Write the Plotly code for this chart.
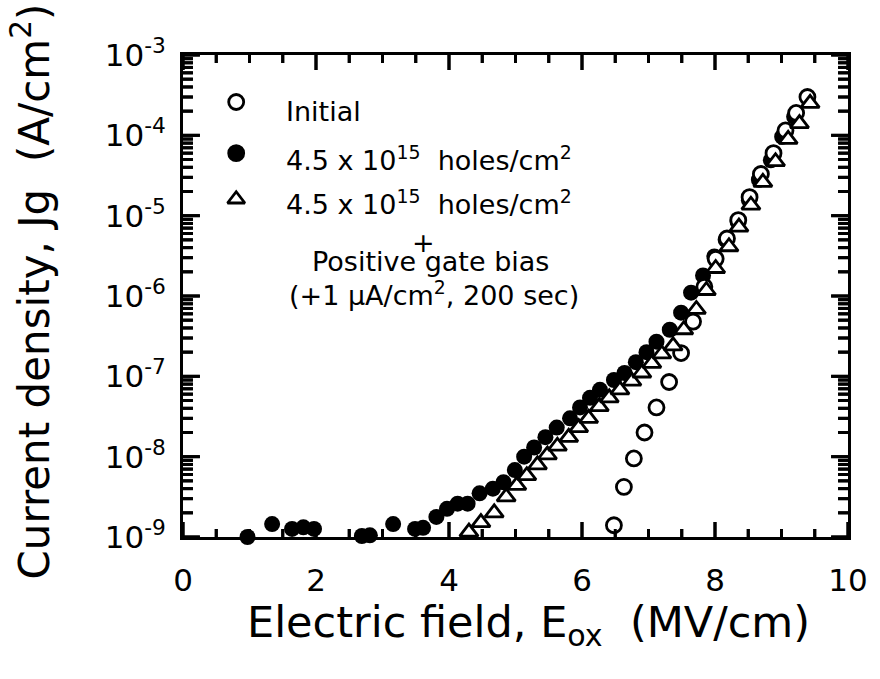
import plotly.graph_objects as go

# Gate current density vs. oxide field
field_initial = [6.48, 6.63, 6.78, 6.94, 7.12, 7.31, 7.49, 7.67, 7.84, 8.01,
                 8.18, 8.35, 8.52, 8.69, 8.88, 9.06, 9.22, 9.39]
jg_initial = [1.4e-9, 4.2e-9, 9.5e-9, 2.0e-8, 4.1e-8, 8.5e-8, 1.95e-7, 4.8e-7,
              1.3e-6, 2.9e-6, 5.2e-6, 8.8e-6, 1.7e-5, 3.3e-5, 6.0e-5, 1.15e-4,
              1.9e-4, 3.0e-4]

field_holes = [0.97, 1.34, 1.64, 1.81, 1.97, 2.69, 2.81, 2.99, 3.16, 3.49,
               3.61, 3.81, 3.97, 4.13, 4.28, 4.46, 4.66, 4.82, 4.99, 5.13,
               5.28, 5.45, 5.62, 5.82, 5.97, 6.12, 6.27, 6.48, 6.64, 6.81,
               6.97, 7.12, 7.32, 7.49, 7.64, 7.82, 7.99, 8.16, 8.34, 8.51,
               8.66, 8.84, 9.01, 9.19]
jg_holes = [1.0e-9, 1.45e-9, 1.26e-9, 1.32e-9, 1.26e-9, 1.03e-9, 1.05e-9,
            0.98e-9, 1.45e-9, 1.26e-9, 1.3e-9, 1.78e-9, 2.24e-9, 2.6e-9,
            2.6e-9, 3.5e-9, 4.0e-9, 4.8e-9, 6.8e-9, 1.0e-8, 1.3e-8, 1.75e-8,
            2.3e-8, 3.0e-8, 4.1e-8, 5.4e-8, 6.8e-8, 9.0e-8, 1.1e-7, 1.5e-7,
            2.0e-7, 2.7e-7, 3.8e-7, 6.2e-7, 1.1e-6, 1.8e-6, 3.1e-6, 5.0e-6,
            8.4e-6, 1.56e-5, 2.8e-5, 4.9e-5, 9.6e-5, 1.7e-4]

field_bias = [4.30, 4.48, 4.68, 4.86, 5.02, 5.17, 5.33, 5.48, 5.63, 5.80,
              5.95, 6.10, 6.26, 6.41, 6.57, 6.75, 6.90, 7.05, 7.20, 7.37,
              7.53, 7.72, 7.87, 8.01, 8.21, 8.36, 8.54, 8.72, 8.91, 9.10,
              9.27, 9.43]
jg_bias = [1.15e-9, 1.51e-9, 2.0e-9, 3.16e-9, 4.4e-9, 5.8e-9, 7.9e-9, 1.05e-8,
           1.35e-8, 1.74e-8, 2.3e-8, 3.0e-8, 4.2e-8, 5.4e-8, 6.8e-8, 8.7e-8,
           1.1e-7, 1.45e-7, 1.9e-7, 2.4e-7, 3.8e-7, 6.8e-7, 1.17e-6, 2.2e-6,
           4.1e-6, 7.2e-6, 1.35e-5, 2.6e-5, 4.7e-5, 8.9e-5, 1.4e-4, 2.5e-4]

X_RANGE = [0, 10]
Y_DECADES = [-9, -3]
x_major = [0, 2, 4, 6, 8, 10]
y_tickvals = [1e-9, 1e-8, 1e-7, 1e-6, 1e-5, 1e-4, 1e-3]
y_ticktext = ["10<sup>-9</sup>", "10<sup>-8</sup>", "10<sup>-7</sup>",
              "10<sup>-6</sup>", "10<sup>-5</sup>", "10<sup>-4</sup>",
              "10<sup>-3</sup>"]

# legend key positions (field, current density) inside the plot area
key_field = [0.80, 0.80, 0.80]
key_jg = [2.6e-4, 6.0e-5, 1.6e-5]
key_symbols = ["circle", "circle", "triangle-up"]
key_fill = ["white", "black", "white"]

FONT = "DejaVu Sans, Verdana, sans-serif"
MS = 16
LW = 2.8
TICK_W = 3

W, H = 880, 679
M_L, M_R, M_T, M_B = 183, 27, 55, 142
PLOT_W = W - M_L - M_R
PLOT_H = H - M_T - M_B
PX_PER_X = PLOT_W / (X_RANGE[1] - X_RANGE[0])
PX_PER_DEC = PLOT_H / (Y_DECADES[1] - Y_DECADES[0])

fig = go.Figure()

x_minor = [i * 0.5 for i in range(21) if (i * 0.5) not in x_major]
y_minor = [m * 10.0 ** e for e in range(-9, -3) for m in range(2, 10)]

# inward tick marks: short line segments on all four sides
seg_x, seg_y = [], []
for vals, length in [(x_major, 15), (x_minor, 8)]:
    d = length / PX_PER_DEC
    for v in vals:
        seg_x += [v, v, None, v, v, None]
        seg_y += [10 ** Y_DECADES[0], 10 ** (Y_DECADES[0] + d), None,
                  10 ** Y_DECADES[1], 10 ** (Y_DECADES[1] - d), None]
for vals, length in [(y_tickvals, 17), (y_minor, 10)]:
    d = length / PX_PER_X
    for v in vals:
        seg_x += [X_RANGE[0], X_RANGE[0] + d, None,
                  X_RANGE[1], X_RANGE[1] - d, None]
        seg_y += [v, v, None, v, v, None]

fig.add_trace(go.Scatter(
    x=seg_x, y=seg_y, mode="lines", cliponaxis=False, hoverinfo="skip",
    connectgaps=False, line=dict(color="black", width=TICK_W)))

# the same tick marks as thin filled bars in plot-area fractions
import math


def xfrac(v):
    return (v - X_RANGE[0]) / (X_RANGE[1] - X_RANGE[0])


def yfrac(v):
    return (math.log10(v) - Y_DECADES[0]) / (Y_DECADES[1] - Y_DECADES[0])


half_wx = (TICK_W / 2) / PLOT_W
half_wy = (TICK_W / 2) / PLOT_H
for vals, length in [(x_major, 15), (x_minor, 8)]:
    h = length / PLOT_H
    for v in vals:
        xf = xfrac(v)
        for y0, y1 in [(0, h), (1 - h, 1)]:
            fig.add_shape(type="rect", xref="paper", yref="paper",
                          x0=xf - half_wx, x1=xf + half_wx, y0=y0, y1=y1,
                          fillcolor="black", line=dict(width=0),
                          layer="above")
for vals, length in [(y_tickvals, 17), (y_minor, 10)]:
    w = length / PLOT_W
    for v in vals:
        yf = yfrac(v)
        for x0, x1 in [(0, w), (1 - w, 1)]:
            fig.add_shape(type="rect", xref="paper", yref="paper",
                          x0=x0, x1=x1, y0=yf - half_wy, y1=yf + half_wy,
                          fillcolor="black", line=dict(width=0),
                          layer="above")

fig.add_trace(go.Scatter(
    x=field_holes, y=jg_holes, mode="markers", cliponaxis=False,
    marker=dict(symbol="circle", size=MS, color="black",
                line=dict(color="black", width=0))))
fig.add_trace(go.Scatter(
    x=field_initial, y=jg_initial, mode="markers", cliponaxis=False,
    marker=dict(symbol="circle", size=MS - 1, color="white",
                line=dict(color="black", width=LW))))
fig.add_trace(go.Scatter(
    x=field_bias, y=jg_bias, mode="markers", cliponaxis=False,
    marker=dict(symbol="triangle-up", size=MS, color="white",
                line=dict(color="black", width=LW))))

for kx, ky, sym, fc in zip(key_field, key_jg, key_symbols, key_fill):
    fig.add_trace(go.Scatter(
        x=[kx], y=[ky], mode="markers",
        marker=dict(symbol=sym, size=MS - 1, color=fc,
                    line=dict(color="black", width=LW))))

legend_lines = [
    ("Initial", 0.152, 0.882, "left"),
    ("4.5 x 10<sup>15</sup>\u00a0\u00a0holes/cm<sup>2</sup>", 0.152, 0.786, "left"),
    ("4.5 x 10<sup>15</sup>\u00a0\u00a0holes/cm<sup>2</sup>", 0.152, 0.695, "left"),
    ("+", 0.361, 0.612, "center"),
    ("Positive gate bias", 0.372, 0.572, "center"),
    ("(+1 \u03bcA/cm<sup>2</sup>, 200 sec)", 0.377, 0.505, "center"),
]
for txt, ax_, ay_, anc in legend_lines:
    fig.add_annotation(text=txt, x=ax_, y=ay_, xref="paper", yref="paper",
                       xanchor=anc, yanchor="middle", showarrow=False,
                       font=dict(family=FONT, size=27, color="black"))

# axis titles
fig.add_annotation(text="Electric field, E<sub>ox</sub>\u00a0\u00a0(MV/cm)",
                   x=0.519, y=-0.183, xref="paper", yref="paper",
                   xanchor="center", yanchor="middle", showarrow=False,
                   font=dict(family=FONT, size=43, color="black"))
fig.add_annotation(text="Current density, Jg\u00a0\u00a0(A/cm<sup>2</sup>)",
                   x=-0.228, y=0.51, xref="paper", yref="paper",
                   xanchor="center", yanchor="middle", textangle=-90,
                   showarrow=False,
                   font=dict(family=FONT, size=42, color="black"))

fig.update_layout(
    width=W, height=H,
    margin=dict(l=M_L, r=M_R, t=M_T, b=M_B),
    paper_bgcolor="white", plot_bgcolor="white",
    showlegend=False,
    font=dict(family=FONT, color="black"),
    xaxis=dict(
        range=X_RANGE, tickmode="array", tickvals=x_major,
        ticks="", showline=True, linecolor="black",
        linewidth=3, mirror=True, showgrid=False, zeroline=False,
        tickfont=dict(family=FONT, size=31), ticklabelstandoff=14,
    ),
    yaxis=dict(
        type="log", range=Y_DECADES, tickmode="array",
        tickvals=y_tickvals, ticktext=y_ticktext,
        ticks="", showline=True, linecolor="black", linewidth=3, mirror=True,
        showgrid=False, zeroline=False,
        tickfont=dict(family=FONT, size=31), ticklabelstandoff=8,
    ),
)

fig.write_html("out.html")
